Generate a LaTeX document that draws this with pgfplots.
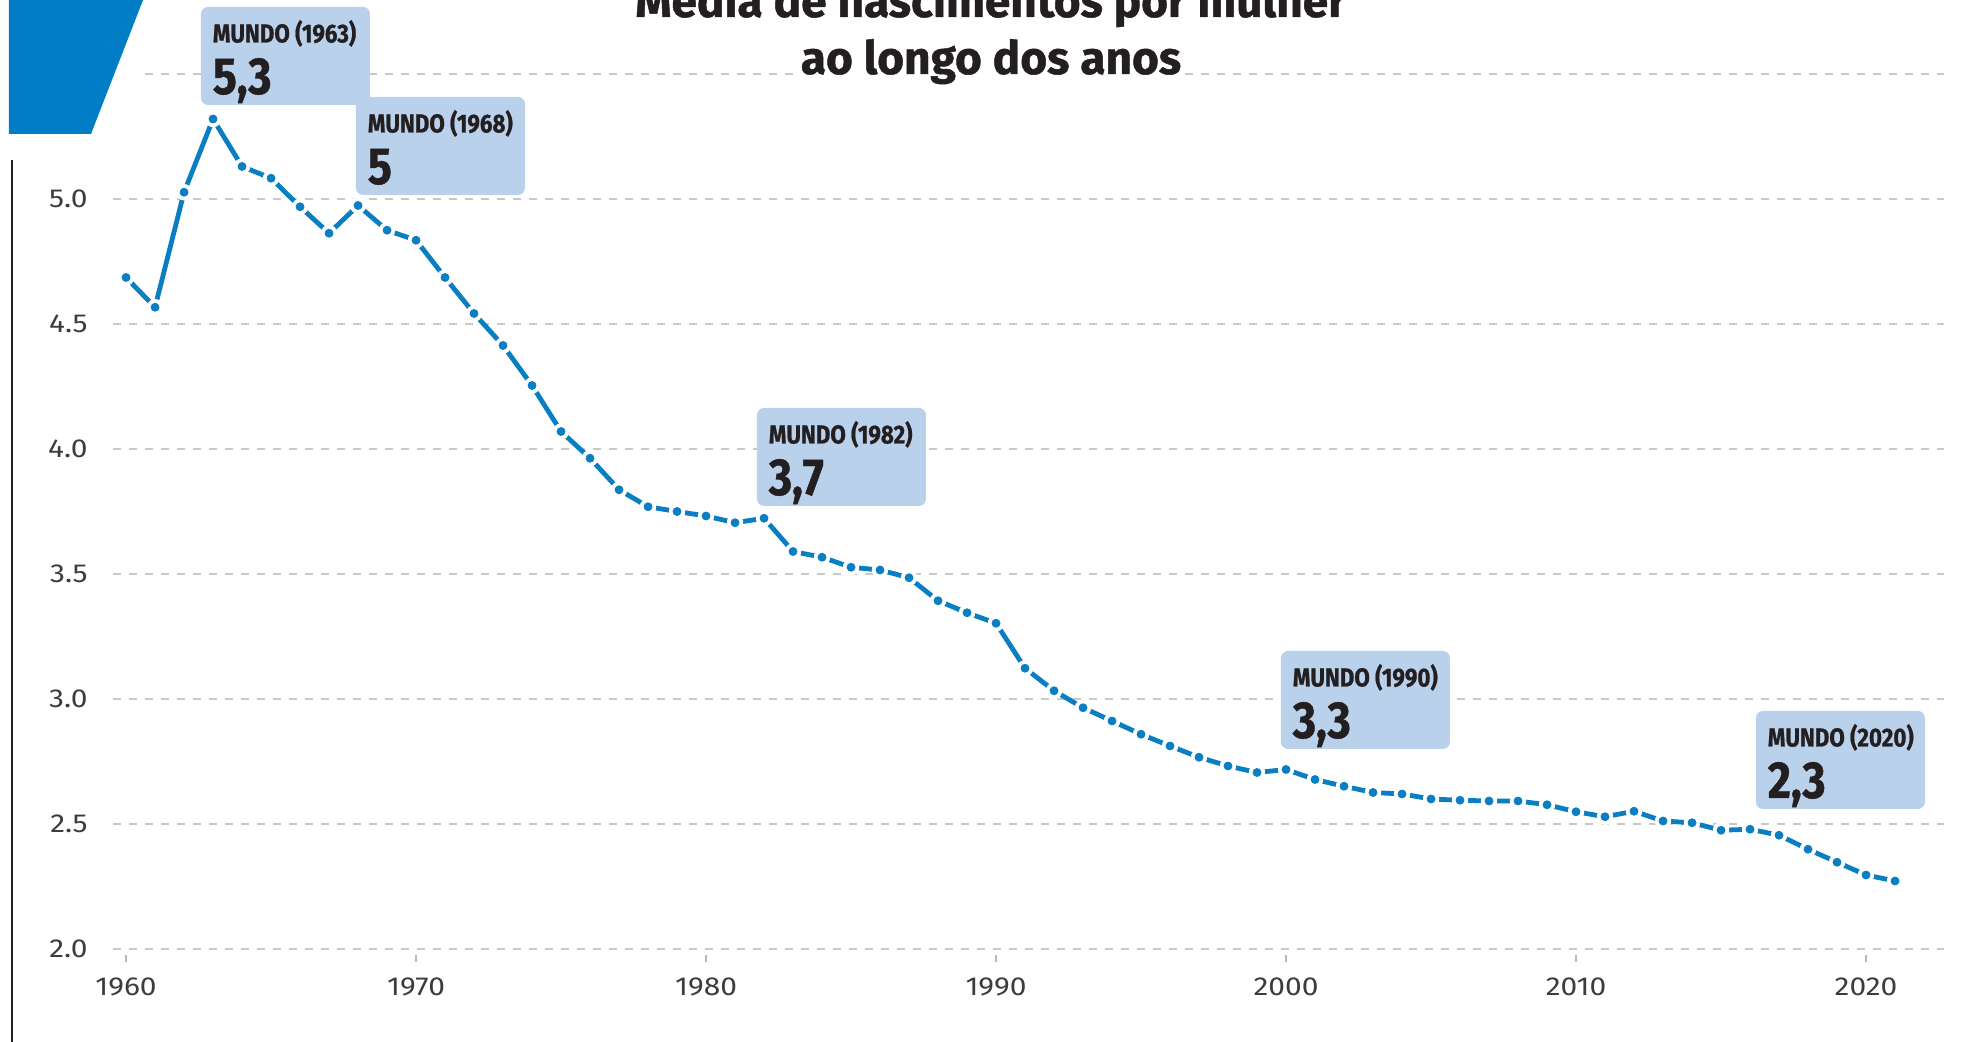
\documentclass[border=0pt]{standalone}
\usepackage{fontspec}
\setmainfont{Fira Sans}
\newfontfamily\condfont{Fira Sans}[FakeStretch=0.86, FakeBold=0.8]
\newfontfamily\titlefont{Fira Sans}[FakeBold=1.0]
\newfontfamily\tickfont{Fira Sans}[FakeStretch=1.15]
\usepackage{pgfplots}
\usepackage{pgfplotstable}
\pgfplotsset{compat=1.18}
\definecolor{lineblue}{HTML}{0A7EC2}
\definecolor{shapeblue}{HTML}{007DC5}
\definecolor{boxblue}{HTML}{BAD1EC}
\definecolor{gridgray}{HTML}{C8C8C8}
\definecolor{txt}{HTML}{231F20}
\definecolor{ticktxt}{HTML}{3C3C3C}

\pgfplotstableread{
year tfr
1960 4.686
1961 4.567
1962 5.027
1963 5.320
1964 5.130
1965 5.083
1966 4.969
1967 4.863
1968 4.974
1969 4.875
1970 4.835
1971 4.686
1972 4.542
1973 4.414
1974 4.254
1975 4.070
1976 3.963
1977 3.837
1978 3.769
1979 3.750
1980 3.732
1981 3.705
1982 3.723
1983 3.590
1984 3.567
1985 3.527
1986 3.516
1987 3.485
1988 3.393
1989 3.345
1990 3.303
1991 3.123
1992 3.033
1993 2.965
1994 2.912
1995 2.859
1996 2.812
1997 2.767
1998 2.732
1999 2.706
2000 2.718
2001 2.678
2002 2.651
2003 2.626
2004 2.620
2005 2.600
2006 2.595
2007 2.592
2008 2.592
2009 2.577
2010 2.549
2011 2.529
2012 2.551
2013 2.512
2014 2.505
2015 2.475
2016 2.479
2017 2.455
2018 2.399
2019 2.347
2020 2.296
2021 2.272
}\tfrtable

\newcommand{\callout}[4]{%
  \fill[boxblue, rounded corners=3.5bp] (#1,#2) rectangle ++(169,98);
  \node[anchor=base west, inner sep=0pt, text=txt, font=\condfont\bfseries\fontsize{13bp}{15bp}\selectfont] at (#1+11.5,#2+35.5) {#3};
  \node[anchor=base west, inner sep=0pt, text=txt, font=\condfont\bfseries\fontsize{26bp}{30bp}\selectfont] at (#1+11.5,#2+87) {#4};
}

\begin{document}
\begin{tikzpicture}
\useasboundingbox (0,0) rectangle (980.5bp,521bp);
\begin{axis}[
  at={(56.5bp,43.5bp)}, anchor=south west,
  scale only axis, width=915.5bp, height=440.5bp,
  xmin=1959.55, xmax=2022.69, ymin=1.976, ymax=5.5,
  axis line style={draw=none},
  xtick={1960,1970,1980,1990,2000,2010,2020},
  xticklabels={1960,1970,1980,1990,2000,2010,2020},
  ytick={2,2.5,3,3.5,4,4.5,5,5.5},
  yticklabels={2.0,2.5,3.0,3.5,4.0,4.5,5.0,{}},
  tick align=outside, xtick pos=bottom, ytick pos=left,
  major tick length=3.5bp,
  xtick style={draw=gray!55, line width=0.75bp},
  ytick style={draw=none},
  ymajorgrids,
  major grid style={draw=gridgray, line width=1.2bp, dash pattern=on 4bp off 4bp},
  tick label style={font=\tickfont\fontsize{13bp}{15bp}\selectfont, text=ticktxt},
  xticklabel style={anchor=north, inner sep=0pt, yshift=-7.5bp},
  yticklabel style={anchor=east, inner sep=0pt, xshift=-9bp},
  clip=false,
]
\addplot[lineblue, line width=2.4bp, mark=none] table[x=year,y=tfr]{\tfrtable};
\addplot[white, only marks, mark=*, mark size=3.9bp] table[x=year,y=tfr]{\tfrtable};
\addplot[lineblue, only marks, mark=*, mark size=2.0bp] table[x=year,y=tfr]{\tfrtable};
\end{axis}
\begin{scope}[shift={(0,521bp)}, x=0.5bp, y=-0.5bp]
  \fill[white] (100,66) rectangle (145,86);
  \fill[shapeblue] (9,-5) -- (145,-5) -- (91,134) -- (9,134) -- cycle;
  \draw[txt, line width=1.25bp] (12,160) -- (12,1050);
  \node[anchor=base, inner sep=0pt, text=txt, font=\titlefont\bfseries\fontsize{23bp}{27bp}\selectfont] at (991,17) {Média de nascimentos por mulher};
  \node[anchor=base, fill=white, inner sep=2bp, text=txt, font=\titlefont\bfseries\fontsize{23bp}{27bp}\selectfont] at (991,74) {ao longo dos anos};
  \callout{201}{7}{MUNDO (1963)}{5,3}
  \callout{356}{97}{MUNDO (1968)}{5}
  \callout{757}{408}{MUNDO (1982)}{3,7}
  \callout{1281}{651}{MUNDO (1990)}{3,3}
  \callout{1756}{711}{MUNDO (2020)}{2,3}
\end{scope}
\end{tikzpicture}
\end{document}
